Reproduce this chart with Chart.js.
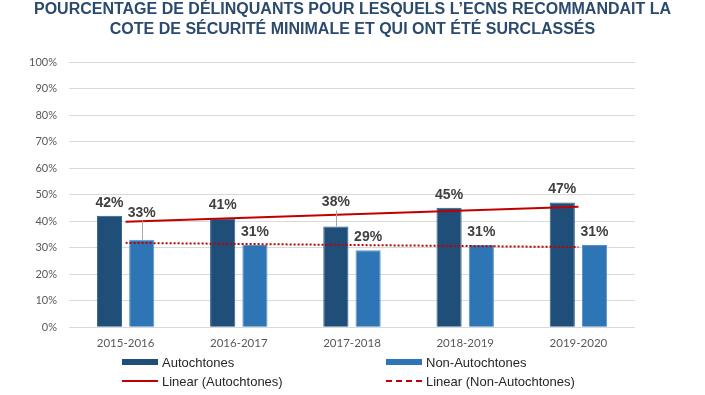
<!DOCTYPE html>
<html lang="fr">
<head>
<meta charset="utf-8">
<title>Délinquants surclassés</title>
<script src="https://cdn.jsdelivr.net/npm/chart.js@4.4.1/dist/chart.umd.min.js"></script>
<style>
    html, body { margin: 0; padding: 0; background: #fff; }
    #wrap { width: 705px; height: 395px; position: relative; }
</style>
</head>
<body>
<div id="wrap"><canvas id="chart"></canvas></div>
<script>
// Data
const years = ['2015-2016', '2016-2017', '2017-2018', '2018-2019', '2019-2020'];
const autochtones = [42, 41, 38, 45, 47];
const nonAutochtones = [33, 31, 29, 31, 31];
const yTicks = [0, 10, 20, 30, 40, 50, 60, 70, 80, 90, 100];

const titleLines = [
    'POURCENTAGE DE DÉLINQUANTS POUR LESQUELS L’ECNS RECOMMANDAIT LA',
    'COTE DE SÉCURITÉ MINIMALE ET QUI ONT ÉTÉ SURCLASSÉS'
];

const DARK = '#1f4e79';
const LIGHT = '#2e75b6';
const RED = '#c00000';

// Excel-style linear trendline (least squares over x = 1..n)
function linearTrend(values) {
    const n = values.length;
    const xs = values.map((v, i) => i + 1);
    const mx = xs.reduce((a, b) => a + b, 0) / n;
    const my = values.reduce((a, b) => a + b, 0) / n;
    let num = 0, den = 0;
    xs.forEach((x, i) => {
        num += (x - mx) * (values[i] - my);
        den += (x - mx) * (x - mx);
    });
    const slope = num / den;
    return xs.map(x => my + slope * (x - mx));
}

// Value labels above bars, some lifted with a leader line like in the original
const barLabels = {
    id: 'barLabels',
    afterDatasetsDraw(chart, args, opts) {
        const ctx = chart.ctx;
        ctx.save();
        ctx.font = 'bold 14px "Liberation Sans", Arial, sans-serif';
        ctx.fillStyle = '#404040';
        ctx.textAlign = 'center';
        ctx.textBaseline = 'middle';
        chart.data.datasets.forEach((ds, di) => {
            if (ds.type === 'line') return;
            const meta = chart.getDatasetMeta(di);
            meta.data.forEach((bar, i) => {
                const lift = (opts.lifts[di + ':' + i] || 0);
                const y = bar.y - 13 - lift;
                if (lift) {
                    ctx.strokeStyle = '#a6a6a6';
                    ctx.lineWidth = 1;
                    ctx.beginPath();
                    ctx.moveTo(Math.round(bar.x) + 0.5, y + 8);
                    ctx.lineTo(Math.round(bar.x) + 0.5, bar.y);
                    ctx.stroke();
                }
                ctx.fillText(ds.data[i] + '%', bar.x, y);
            });
        });
        ctx.restore();
    }
};

// Two-column legend under the axis, as in the Excel chart
const bottomLegend = {
    id: 'bottomLegend',
    afterDraw(chart) {
        const ctx = chart.ctx;
        const items = [
            { label: 'Autochtones', kind: 'bar', color: DARK, col: 0, row: 0 },
            { label: 'Non-Autochtones', kind: 'bar', color: LIGHT, col: 1, row: 0 },
            { label: 'Linear (Autochtones)', kind: 'line', color: RED, col: 0, row: 1 },
            { label: 'Linear (Non-Autochtones)', kind: 'dash', color: RED, col: 1, row: 1 }
        ];
        const colX = [122, 386];
        const rowY = [362, 381];
        ctx.save();
        ctx.font = '13px "Liberation Sans", Arial, sans-serif';
        ctx.textBaseline = 'middle';
        ctx.textAlign = 'left';
        items.forEach(it => {
            const x = colX[it.col];
            const y = rowY[it.row];
            if (it.kind === 'bar') {
                ctx.fillStyle = it.color;
                ctx.fillRect(x, y - 3, 36, 6);
            } else {
                ctx.strokeStyle = it.color;
                ctx.lineWidth = 2;
                ctx.setLineDash(it.kind === 'dash' ? [6, 4] : []);
                ctx.beginPath();
                ctx.moveTo(x, y);
                ctx.lineTo(x + 36, y);
                ctx.stroke();
                ctx.setLineDash([]);
            }
            ctx.fillStyle = '#262626';
            ctx.fillText(it.label, x + 40, y + 1);
        });
        ctx.restore();
    }
};

const ctx = document.getElementById('chart').getContext('2d');
new Chart(ctx, {
    data: {
        labels: years,
        datasets: [
            {
                type: 'line',
                label: 'Linear (Autochtones)',
                data: linearTrend(autochtones),
                borderColor: RED,
                borderWidth: 2,
                pointRadius: 0,
                fill: false,
                order: 0
            },
            {
                type: 'line',
                label: 'Linear (Non-Autochtones)',
                data: linearTrend(nonAutochtones),
                borderColor: RED,
                borderWidth: 2,
                borderDash: [2, 2],
                pointRadius: 0,
                fill: false,
                order: 0
            },
            {
                type: 'bar',
                label: 'Autochtones',
                data: autochtones,
                backgroundColor: DARK,
                borderColor: '#2f5f8c',
                borderWidth: 1,
                categoryPercentage: 0.57,
                barPercentage: 0.78,
                order: 1
            },
            {
                type: 'bar',
                label: 'Non-Autochtones',
                data: nonAutochtones,
                backgroundColor: LIGHT,
                borderColor: '#5b93c9',
                borderWidth: 1,
                categoryPercentage: 0.57,
                barPercentage: 0.78,
                order: 1
            }
        ]
    },
    options: {
        responsive: true,
        maintainAspectRatio: false,
        animation: false,
        layout: {
            padding: { left: 0, right: 0, top: 0, bottom: 36 }
        },
        plugins: {
            legend: { display: false },
            tooltip: { enabled: false },
            title: {
                display: true,
                text: titleLines,
                color: '#2a4a6e',
                font: { family: '"Liberation Sans", Arial, sans-serif', size: 16, weight: 'bold', lineHeight: 1.25 },
                padding: { top: 0, bottom: 22 }
            },
            barLabels: {
                lifts: { '2:2': 11, '3:0': 14 }
            }
        },
        scales: {
            x: {
                grid: { display: false, drawTicks: false },
                border: { display: false },
                ticks: {
                    color: '#595959',
                    padding: 9,
                    font: { family: 'Lato, "Open Sans", sans-serif', size: 11.5 }
                }
            },
            y: {
                min: 0,
                max: 100,
                afterFit(scale) { scale.width = 69; },
                afterBuildTicks(scale) { scale.ticks = yTicks.map(v => ({ value: v })); },
                grid: { color: '#d9d9d9', lineWidth: 1, drawTicks: false },
                border: { display: false },
                ticks: {
                    color: '#595959',
                    padding: 12,
                    font: { family: 'Lato, "Open Sans", sans-serif', size: 11 },
                    callback: v => v + '%'
                }
            },
            // empty right-hand margin so the title stays centred on the page
            spacer: {
                type: 'linear',
                position: 'right',
                display: true,
                afterFit(scale) { scale.width = 70; },
                grid: { display: false, drawTicks: false },
                border: { display: false },
                ticks: { display: false }
            }
        }
    },
    plugins: [barLabels, bottomLegend]
});
</script>
</body>
</html>
